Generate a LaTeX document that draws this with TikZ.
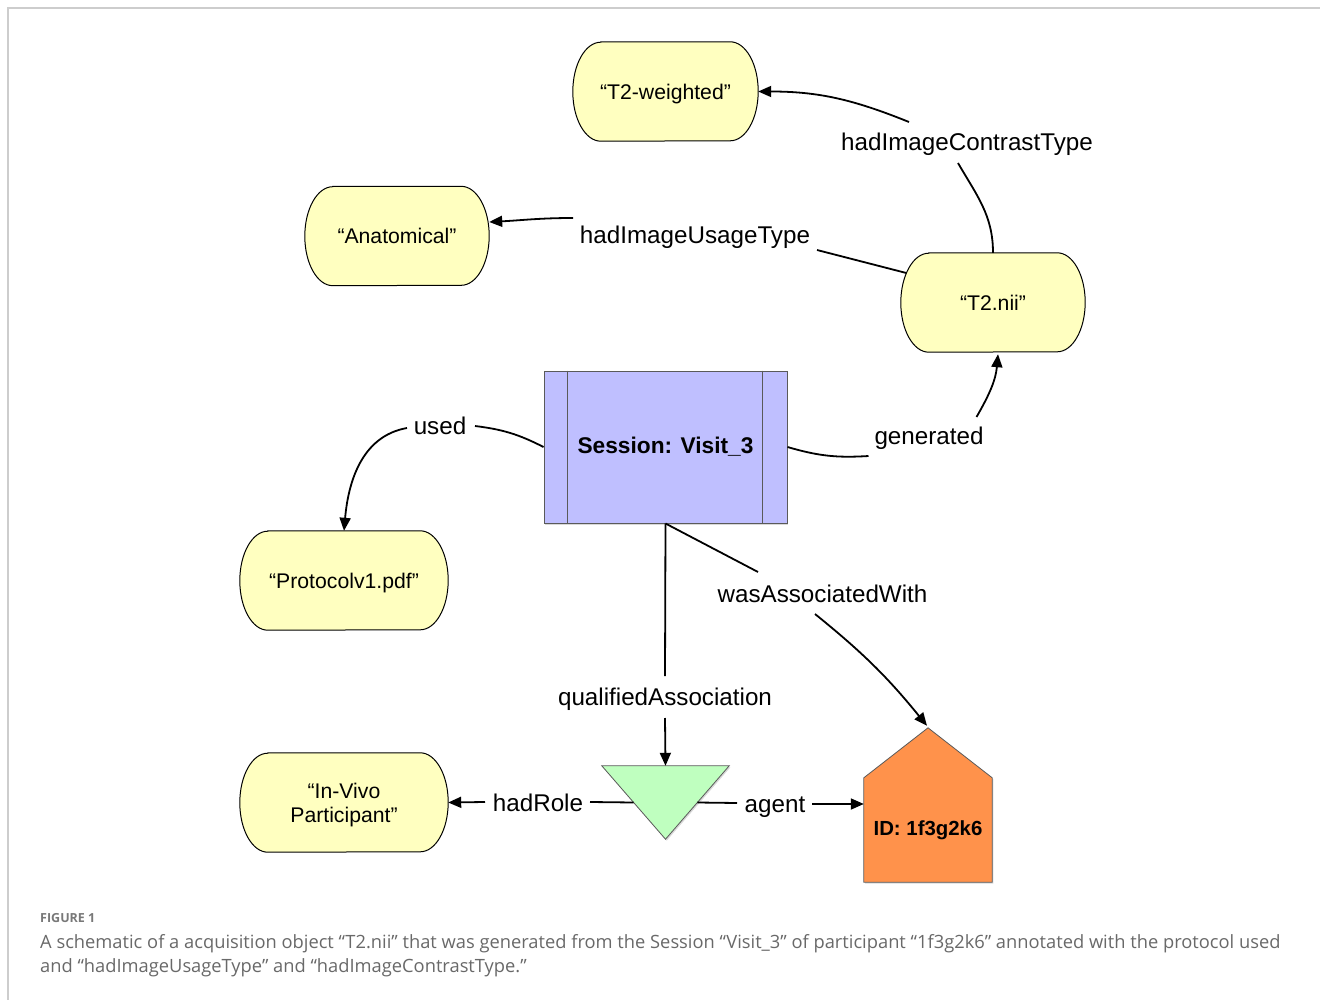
\documentclass[tikz,border=0pt]{standalone}
\usepackage{fontspec}
\setmainfont{Liberation Sans}
\newfontfamily\capfont{Open Sans}
\usetikzlibrary{arrows.meta,calc,shadows,backgrounds}
\definecolor{termfill}{RGB}{255,255,192}
\definecolor{sessfill}{RGB}{191,191,255}
\definecolor{trifill}{RGB}{191,255,191}
\definecolor{agentfill}{RGB}{255,146,75}
\definecolor{edgegray}{RGB}{90,90,90}
\definecolor{framegray}{RGB}{205,205,205}
\definecolor{capgray}{RGB}{120,120,120}
\definecolor{captext}{RGB}{105,105,105}
\tikzset{
  conn/.style={line width=1.8pt, black},
  arr/.style={conn, -{Triangle[length=13pt,width=11pt]}},
  lbl/.style={font=\fontsize{24.2}{28}\selectfont, inner sep=2pt, anchor=base},
  termtext/.style={font=\fontsize{21.2}{24}\selectfont, align=center, inner sep=0pt,
    text depth=0pt, minimum height=99pt},
  termbox/.style={fill=termfill, draw=black, line width=1pt},
  softshadow/.style={drop shadow={shadow xshift=1.2pt, shadow yshift=-1.5pt, opacity=0.3}},
  sessbox/.style={draw=edgegray, line width=1pt, fill=sessfill, softshadow,
    minimum width=243pt, minimum height=152pt, inner sep=0pt,
    font=\bfseries\fontsize{22.7}{26}\selectfont},
  sessline/.style={draw=edgegray, line width=1pt},
  captionstyle/.style={anchor=base west, inner sep=0pt, text=captext,
    font=\capfont\fontsize{18.3}{20}\selectfont},
}
\newcommand\termshape[1]{%
  \filldraw[termbox] ([xshift=28pt]#1.north west) -- ([xshift=-28pt]#1.north east)
    arc[start angle=90, end angle=-90, x radius=28pt, y radius=49.5pt]
    -- ([xshift=28pt]#1.south west)
    arc[start angle=270, end angle=90, x radius=28pt, y radius=49.5pt] -- cycle;}
\begin{document}
\begin{tikzpicture}[x=1pt,y=1pt]
\useasboundingbox (0,0) rectangle (1320,-1000);

% terminal nodes
\node[termtext, minimum width=185pt] (t2w) at (665.5,-91.5) {“T2-weighted”};
\node[termtext, minimum width=184pt] (anat) at (397,-236) {“Anatomical”};
\node[termtext, minimum width=184pt] (t2nii) at (993,-302.5) {“T2.nii”};
\node[termtext, minimum width=208pt] (proto) at (344,-580.5) {“Protocolv1.pdf”};
\node[termtext, minimum width=208pt] (invivo) at (344,-802.5) {“In-Vivo\\Participant”};

% session
\node[sessbox] (session) at (665.5,-447) {Session: Visit\_3};
\draw[sessline] ([xshift=24pt]session.north west) -- ([xshift=24pt]session.south west);
\draw[sessline] ([xshift=-25pt]session.north east) -- ([xshift=-25pt]session.south east);

% association triangle and agent
\node[minimum width=127pt, minimum height=73pt, inner sep=0pt] (assoc) at (665.5,-802.5) {};
\node[minimum width=128pt, minimum height=104pt, inner sep=0pt,
  font=\bfseries\fontsize{20.4}{24}\selectfont] (agent) at (928,-830) {ID: 1f3g2k6};

\begin{pgfonlayer}{background}
  \fill[white] (0,0) rectangle (1320,-1000);
  \draw[framegray, line width=2pt] (8,-1000) -- (8,-8) -- (1320,-8);
  \termshape{t2w}
  \termshape{anat}
  \termshape{t2nii}
  \termshape{proto}
  \termshape{invivo}
  \filldraw[fill=trifill, draw=edgegray, line width=0.8pt, softshadow]
    (assoc.north west) -- (assoc.north east) -- (assoc.south) -- cycle;
  \filldraw[fill=agentfill, draw=edgegray, line width=0.8pt, softshadow]
    (agent.south west) -- (agent.north west) -- ($(agent.north)+(0,50)$)
    -- (agent.north east) -- (agent.south east) -- cycle;
\end{pgfonlayer}

% labels
\node[lbl] (lC) at (967,-150.5) {hadImageContrastType};
\node[lbl] (lU) at (695,-244) {hadImageUsageType};
\node[lbl] (lG) at (929,-444) {generated};
\node[lbl] (lUsed) at (440,-434) {used};
\node[lbl] (lQ) at (665,-705) {qualifiedAssociation};
\node[lbl] (lW) at (822.5,-602) {wasAssociatedWith};
\node[lbl] (lR) at (538,-811) {hadRole};
\node[lbl] (lA) at (775,-812) {agent};

% connectors
\draw[conn] (t2nii.north) to[out=90,in=-60] ($(lC.base)+(-9,-12.5)$);
\draw[arr] ($(lC.base)+(-58,28.5)$) to[out=158,in=0] (t2w.east);

\draw[conn] ($(t2nii.west)+(5.5,29.5)$) -- ($(lU.base)+(122,-6)$);
\draw[arr] ($(lU.base)+(-122,26)$) to[out=180,in=3] ($(anat.east)+(0,14)$);

\draw[conn] (session.east) to[bend right=10] ($(lG.base)+(-60.5,-12)$);
\draw[arr] ($(lG.base)+(47.5,27)$) to[out=60,in=-95] ($(t2nii.south)+(5,-2)$);

\draw[conn] (session.west) to[bend right=10] ($(lUsed.base)+(35,8)$);
\draw[arr] ($(lUsed.base)+(-33,6)$) to[out=190,in=85] (proto.north);

\draw[conn] (session.south) -- ($(lQ.base)+(0,29)$);
\draw[arr] ($(lQ.base)+(0,-13)$) -- (assoc.north);

\draw[conn] (session.south) -- ($(lW.base)+(-64.5,30)$);
\draw[arr] ($(lW.base)+(-7.5,-12)$) to[bend left=6] ($(agent.north)+(-1,52)$);

\draw[conn] ($(assoc.north west)!0.5!(assoc.south)$) -- ($(lR.base)+(52,9)$);
\draw[arr] ($(lR.base)+(-53,9)$) -- (invivo.east);
\draw[conn] ($(assoc.north east)!0.5!(assoc.south)$) -- ($(lA.base)+(-38,9)$);
\draw[arr] ($(lA.base)+(37,8)$) -- ($(agent.west)+(0,26)$);

% caption
\node[anchor=base west, inner sep=0pt, text=capgray,
  font=\capfont\bfseries\fontsize{12.5}{15}\selectfont] (fig) at (40,-922) {FIGURE 1};
\node[captionstyle] (cap1) at (40,-948) {A schematic of a acquisition object “T2.nii” that was generated from the Session “Visit\_3” of participant “1f3g2k6” annotated with the protocol used};
\node[captionstyle] (cap2) at (40,-972) {and “hadImageUsageType” and “hadImageContrastType.”};
\end{tikzpicture}
\end{document}
